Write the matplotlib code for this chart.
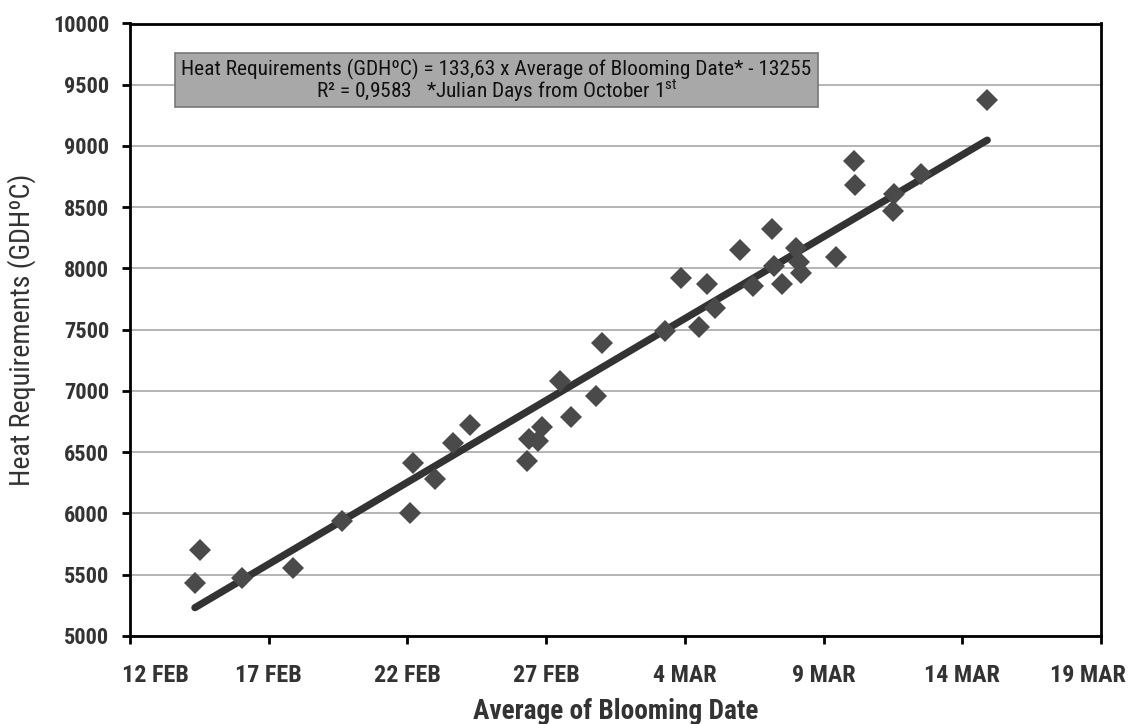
import numpy as np
import matplotlib
matplotlib.use("Agg")
import matplotlib.pyplot as plt
from matplotlib import font_manager
from matplotlib.patches import Rectangle
from matplotlib.transforms import ScaledTranslation

# julian days from October 1st (12 FEB = 136)
bloom_day = [138.34, 138.52, 140.02, 141.87, 143.65, 146.08, 146.19, 146.98,
             147.63, 148.24, 150.30, 150.40, 150.72, 150.84, 151.50, 151.90,
             152.80, 153.00, 155.30, 155.86, 156.50, 156.80, 157.10, 157.98,
             158.45, 159.15, 159.20, 159.50, 160.00, 160.10, 160.20, 161.45,
             162.10, 162.13, 163.50, 163.55, 164.50, 166.90]
heat_req = [5435, 5700, 5470, 5555, 5935, 6005, 6415, 6285,
            6575, 6720, 6425, 6605, 6595, 6705, 7080, 6785,
            6960, 7395, 7490, 7925, 7525, 7875, 7680, 8155,
            7860, 8320, 8020, 7870, 8170, 8050, 7965, 8090,
            8875, 8680, 8470, 8605, 8770, 9375]

slope, intercept = 133.63, -13255

tick_days = [136, 141, 146, 151, 156, 161, 166, 171]
tick_labels = ["12 FEB", "17 FEB", "22 FEB", "27 FEB", "4 MAR", "9 MAR", "14 MAR", "19 MAR"]


def find_font(bold):
    # look for a narrow / condensed face, otherwise fall back to Roboto
    keys = ["liberationsansnarrow", "robotocondensed", "notosans-condensed",
            "opensans-condensed", "condensed", "narrow"]
    files = [f.fname for f in font_manager.fontManager.ttflist]
    for k in keys:
        for fn in sorted(files):
            low = fn.lower().replace(" ", "")
            name = low.rsplit("/", 1)[-1]
            if k not in name or "italic" in name or "extra" in name or "semi" in name:
                continue
            isbold = "bold" in name
            if bold == isbold and (bold or not any(w in name for w in ["light", "thin", "medium", "black"])):
                if not bold or name.endswith("bold.ttf") or name.endswith("bold.otf") or "-bold." in name:
                    return font_manager.FontProperties(fname=fn)
    return font_manager.FontProperties(family="Roboto", weight="bold" if bold else "normal")


fp_bold = find_font(True)
fp_reg = find_font(False)

fig = plt.figure(figsize=(11.29, 7.24), dpi=100)
renderer = fig.canvas.get_renderer()


def fit(fp, s, target):
    p = fp.copy()
    p.set_size(20)
    t = fig.text(0, 0, s, fontproperties=p)
    w = t.get_window_extent(renderer).width
    t.remove()
    p.set_size(20 * target / w)
    return p


fp_xtick = fit(fp_bold, "27 FEB", 67)
fp_ytick = fit(fp_bold, "10000", 56)
fp_xlab = fit(fp_bold, "Average of Blooming Date", 285)
fp_ylab = fit(fp_reg, "Heat Requirements (GDHºC)", 312)
fp_note = fit(fp_reg, "Heat Requirements (GDHºC) = 133,63 x Average of Blooming Date* - 13255", 630)

ax = fig.add_axes([130 / 1129, 1 - 636 / 724, (1101 - 130) / 1129, (636 - 23.5) / 724])

ax.grid(True, axis="y", color="#b4b4b4", linewidth=1.4, zorder=0)
ax.set_axisbelow(True)

x = np.array(bloom_day)
xt = np.array([x.min(), x.max()])
ax.plot(xt, slope * xt + intercept, color="#333333", linewidth=5.2,
        solid_capstyle="round", zorder=2)
ax.plot(x, heat_req, linestyle="none", marker="D", markersize=11,
        color="#4a4a4a", markeredgewidth=0, zorder=3)

ax.set_xlim(136, 171)
ax.set_ylim(5000, 10000)
ax.set_xticks(tick_days)
ax.set_xticklabels(tick_labels)
ax.set_yticks(range(5000, 10001, 500))

for s in ax.spines.values():
    s.set_linewidth(2)
    s.set_color("black")

ax.tick_params(axis="both", direction="out", length=6, width=2, color="black",
               labelcolor="#333333")
ax.tick_params(axis="x", pad=14)
ax.tick_params(axis="y", pad=9)
for lab in ax.get_xticklabels():
    lab.set_fontproperties(fp_xtick)
for lab in ax.get_yticklabels():
    lab.set_fontproperties(fp_ytick)

# edge labels are pulled inside the chart area, like in the original
xlabs = ax.get_xticklabels()
xlabs[0].set_transform(xlabs[0].get_transform() + ScaledTranslation(0.25, 0, fig.dpi_scale_trans))
xlabs[-1].set_transform(xlabs[-1].get_transform() + ScaledTranslation(-0.13, 0, fig.dpi_scale_trans))

ax.set_xlabel("Average of Blooming Date", fontproperties=fp_xlab,
              color="#333333", labelpad=8)
ax.set_ylabel("Heat Requirements (GDHºC)", fontproperties=fp_ylab,
              color="#333333", labelpad=12)

# equation box
bx0, bx1, by0, by1 = 175, 818, 53, 107
fig.patches.append(Rectangle((bx0 / 1129, 1 - by1 / 724), (bx1 - bx0) / 1129,
                             (by1 - by0) / 724, transform=fig.transFigure,
                             facecolor="#a8a8a8", edgecolor="#777777",
                             linewidth=1.2, zorder=5))
cx = (bx0 + bx1) / 2 / 1129
fig.text(cx, 1 - 69 / 724,
         "Heat Requirements (GDHºC) = 133,63 x Average of Blooming Date* - 13255",
         ha="center", va="center", fontproperties=fp_note, color="#111111", zorder=6)
fig.text(cx, 1 - 91 / 724,
         "R² = 0,9583   *Julian Days from October 1$^{\\mathregular{st}}$",
         ha="center", va="center", fontproperties=fp_note, color="#111111", zorder=6)

fig.savefig("out.png", dpi=100, facecolor="white")
